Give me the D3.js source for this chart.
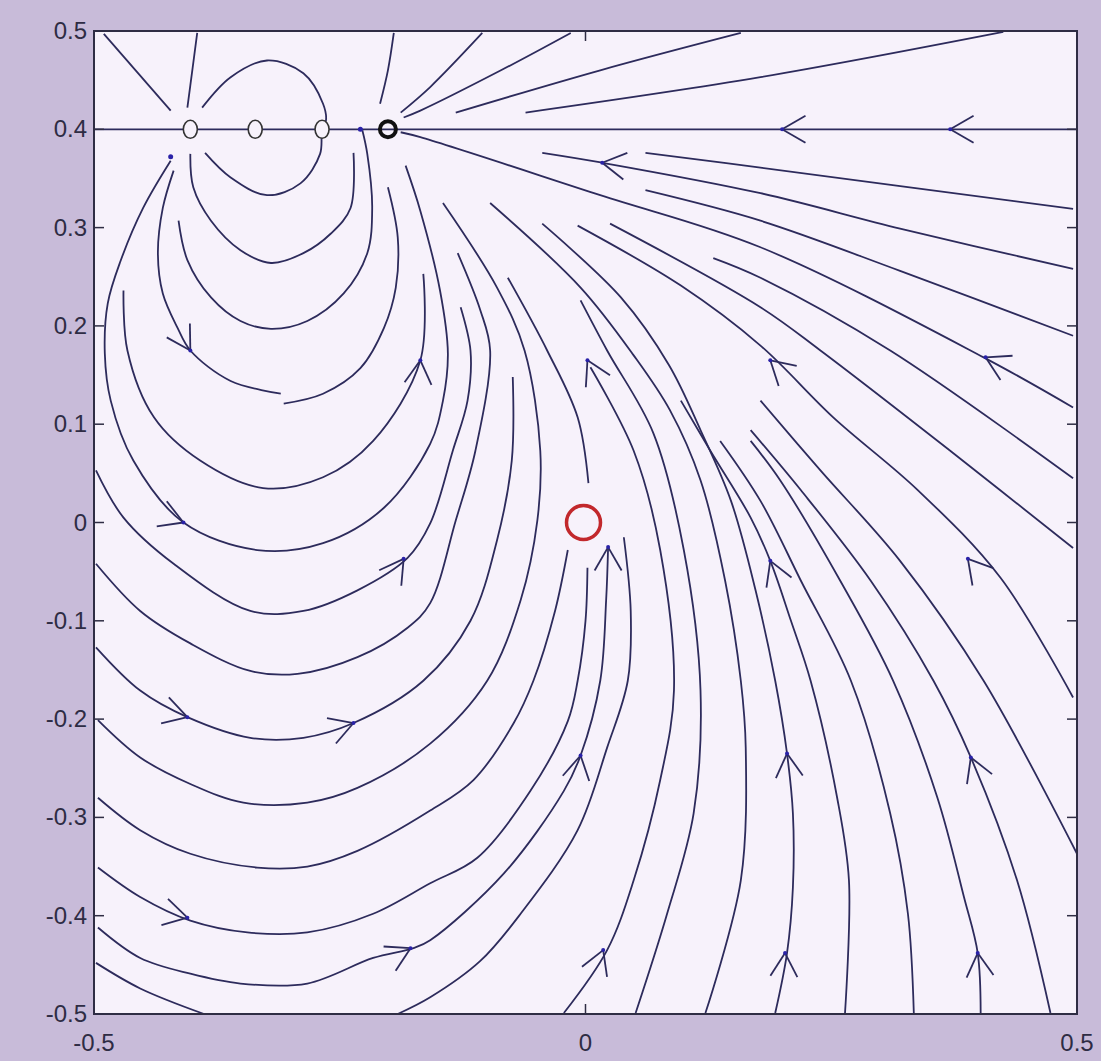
<!DOCTYPE html>
<html>
<head>
<script src="https://d3js.org/d3.v7.min.js"></script>
<style>
  body { margin: 0; background: #c8bbd9; }
  .tick-label { font: 24px "Liberation Sans", Arial, sans-serif; fill: #2e2c44; }
</style>
</head>
<body>
<svg id="chart" width="1101" height="1061"></svg>
<script>
// axis ticks
var xTicks = [-0.5, 0, 0.5];
var yTicks = [-0.5, -0.4, -0.3, -0.2, -0.1, 0, 0.1, 0.2, 0.3, 0.4, 0.5];

// markers on the y = 0.4 line and the red one at the origin
var smallMarks = [[-0.402, 0.4], [-0.336, 0.4], [-0.268, 0.4]];
var sinkMark = [-0.201, 0.4];
var redMark = [0, 0];

// lines above y = 0.4
var topLines = [
  [[-0.490, 0.497], [-0.422, 0.419]],
  [[-0.395, 0.498], [-0.400, 0.460], [-0.405, 0.422]],
  [[-0.390, 0.422], [-0.361, 0.453], [-0.324, 0.470], [-0.287, 0.457], [-0.267, 0.426], [-0.264, 0.409], [-0.268, 0.400], [-0.270, 0.375], [-0.290, 0.345], [-0.324, 0.333], [-0.361, 0.351], [-0.387, 0.376]],
  [[-0.195, 0.498], [-0.201, 0.460], [-0.209, 0.426]],
  [[-0.188, 0.417], [-0.158, 0.443], [-0.105, 0.498]],
  [[-0.185, 0.412], [-0.168, 0.419], [-0.086, 0.460], [-0.015, 0.498]],
  [[-0.132, 0.417], [0.015, 0.460], [0.158, 0.498]],
  [[-0.061, 0.417], [0.178, 0.453], [0.425, 0.499]],
  [[-0.5, 0.4], [0.5, 0.4]]
];

// lines coming in from the right edge
var rightLines = [
  [[-0.188, 0.397], [-0.168, 0.392], [0.015, 0.333], [0.178, 0.280], [0.405, 0.168], [0.496, 0.117]],
  [[-0.044, 0.376], [0.017, 0.366], [0.178, 0.335], [0.320, 0.299], [0.496, 0.258]],
  [[0.061, 0.376], [0.178, 0.361], [0.496, 0.319]],
  [[0.061, 0.338], [0.178, 0.307], [0.320, 0.256], [0.496, 0.190]],
  [[0.130, 0.269], [0.178, 0.249], [0.310, 0.175], [0.496, 0.045]],
  [[0.025, 0.304], [0.178, 0.219], [0.239, 0.175], [0.371, 0.073], [0.496, -0.026]],
  [[-0.008, 0.302], [0.097, 0.241], [0.178, 0.180], [0.252, 0.107], [0.338, 0.033], [0.422, -0.056], [0.496, -0.178]],
  [[0.500, -0.337], [0.405, -0.161], [0.320, -0.039], [0.239, 0.053], [0.178, 0.124]]
];

// loops on the left
var loopLines = [
  [[-0.402, 0.375], [-0.399, 0.341], [-0.381, 0.307], [-0.351, 0.277], [-0.320, 0.264], [-0.287, 0.274], [-0.259, 0.294], [-0.239, 0.320], [-0.236, 0.376]],
  [[-0.414, 0.307], [-0.405, 0.267], [-0.381, 0.229], [-0.351, 0.205], [-0.320, 0.197], [-0.283, 0.205], [-0.246, 0.233], [-0.222, 0.274], [-0.217, 0.320], [-0.222, 0.375], [-0.227, 0.399]],
  [[-0.419, 0.358], [-0.430, 0.320], [-0.435, 0.274], [-0.430, 0.233], [-0.415, 0.198], [-0.402, 0.175], [-0.361, 0.144], [-0.310, 0.131]],
  [[-0.307, 0.121], [-0.267, 0.131], [-0.229, 0.157], [-0.205, 0.198], [-0.193, 0.239], [-0.191, 0.290], [-0.201, 0.341]],
  [[-0.470, 0.236], [-0.466, 0.175], [-0.439, 0.107], [-0.392, 0.063], [-0.328, 0.035], [-0.267, 0.046], [-0.216, 0.083], [-0.168, 0.165], [-0.165, 0.253]],
  [[-0.422, 0.368], [-0.450, 0.320], [-0.473, 0.266], [-0.486, 0.223], [-0.489, 0.172], [-0.483, 0.124], [-0.460, 0.063], [-0.409, 0.000], [-0.334, -0.028], [-0.267, -0.021], [-0.205, 0.015], [-0.158, 0.080], [-0.145, 0.124], [-0.140, 0.172], [-0.148, 0.236], [-0.168, 0.317], [-0.183, 0.363]],
  [[-0.498, 0.053], [-0.470, 0.005], [-0.419, -0.042], [-0.341, -0.090], [-0.287, -0.090], [-0.232, -0.069], [-0.181, -0.036], [-0.158, -0.001], [-0.135, 0.073], [-0.120, 0.124], [-0.117, 0.175], [-0.127, 0.219]],
  [[-0.498, -0.042], [-0.453, -0.090], [-0.402, -0.123], [-0.341, -0.151], [-0.293, -0.154], [-0.232, -0.137], [-0.181, -0.107], [-0.158, -0.082], [-0.132, 0.002], [-0.112, 0.073], [-0.097, 0.175], [-0.107, 0.216], [-0.130, 0.274]],
  [[-0.498, -0.127], [-0.453, -0.171], [-0.405, -0.198], [-0.341, -0.219], [-0.287, -0.219], [-0.236, -0.204], [-0.165, -0.161], [-0.117, -0.100], [-0.090, -0.018], [-0.075, 0.063], [-0.074, 0.148]],
  [[-0.496, -0.201], [-0.453, -0.239], [-0.402, -0.266], [-0.348, -0.285], [-0.283, -0.285], [-0.232, -0.270], [-0.158, -0.225], [-0.100, -0.161], [-0.066, -0.079], [-0.049, 0.002], [-0.046, 0.073], [-0.062, 0.175], [-0.090, 0.239], [-0.145, 0.325]],
  [[-0.496, -0.280], [-0.453, -0.313], [-0.402, -0.337], [-0.334, -0.351], [-0.283, -0.350], [-0.232, -0.334], [-0.158, -0.293], [-0.114, -0.262], [-0.073, -0.204], [-0.053, -0.161], [-0.031, -0.090], [-0.018, -0.028]],
  [[-0.496, -0.351], [-0.453, -0.381], [-0.402, -0.405], [-0.344, -0.417], [-0.283, -0.417], [-0.216, -0.398], [-0.158, -0.367], [-0.110, -0.341], [-0.056, -0.273], [-0.018, -0.202], [-0.008, -0.161], [0.000, -0.100], [0.002, -0.046]],
  [[-0.496, -0.412], [-0.453, -0.443], [-0.402, -0.459], [-0.351, -0.469], [-0.283, -0.469], [-0.216, -0.443], [-0.175, -0.433], [-0.158, -0.425], [-0.083, -0.357], [-0.022, -0.273], [-0.005, -0.237], [0.015, -0.161], [0.021, -0.079], [0.023, -0.025]],
  [[-0.498, -0.448], [-0.453, -0.474], [-0.388, -0.500]],
  [[-0.191, -0.500], [-0.158, -0.483], [-0.107, -0.446], [-0.066, -0.398], [-0.008, -0.313], [0.022, -0.229], [0.043, -0.161], [0.046, -0.090], [0.039, -0.015]]
];

// lines rising from the bottom towards the sink
var fanLines = [
  [[-0.079, 0.249], [-0.039, 0.175], [-0.008, 0.107], [0.003, 0.040]],
  [[-0.022, -0.499], [0.022, -0.435], [0.049, -0.364], [0.076, -0.262], [0.090, -0.171], [0.076, -0.028], [0.049, 0.073], [0.005, 0.158]],
  [[0.051, -0.499], [0.083, -0.398], [0.110, -0.296], [0.117, -0.171], [0.100, -0.028], [0.069, 0.091], [0.022, 0.175], [-0.005, 0.226]],
  [[0.122, -0.499], [0.158, -0.364], [0.163, -0.229], [0.158, -0.161], [0.142, -0.059], [0.117, 0.043], [0.086, 0.114], [0.049, 0.170], [-0.005, 0.239], [-0.097, 0.325]],
  [[0.193, -0.499], [0.205, -0.438], [0.211, -0.371], [0.211, -0.296], [0.205, -0.235], [0.193, -0.161], [0.173, -0.069], [0.148, 0.022], [0.117, 0.094], [0.085, 0.160], [0.036, 0.229], [-0.044, 0.304]],
  [[0.264, -0.499], [0.268, -0.364], [0.256, -0.280], [0.229, -0.161], [0.209, -0.100], [0.188, -0.039], [0.168, 0.005], [0.127, 0.073], [0.097, 0.124]],
  [[0.334, -0.499], [0.328, -0.398], [0.310, -0.296], [0.270, -0.161], [0.219, -0.059], [0.178, 0.022], [0.137, 0.083]],
  [[0.402, -0.499], [0.399, -0.438], [0.385, -0.381], [0.358, -0.280], [0.313, -0.161], [0.259, -0.059], [0.198, 0.043], [0.168, 0.083]],
  [[0.473, -0.499], [0.439, -0.364], [0.392, -0.239], [0.354, -0.161], [0.290, -0.059], [0.219, 0.033], [0.168, 0.094]]
];

// arrow heads: x, y, direction dx, dy
var arrows = [
  [0.200, 0.400, -1, 0], [0.371, 0.400, -1, 0], [0.017, 0.366, -1, 0.15],
  [0.407, 0.168, -1, 0.5], [0.188, 0.165, -1, 0.9], [0.389, -0.037, -1, 1.2],
  [0.188, -0.039, -0.4, 1], [0.002, 0.165, -0.5, 1], [0.023, -0.025, 0, 1],
  [-0.005, -0.237, 0.2, 1], [0.018, -0.435, 0.4, 1], [0.205, -0.235, -0.1, 1],
  [0.203, -0.438, 0.05, 1], [0.392, -0.239, -0.4, 1], [0.399, -0.438, -0.1, 1],
  [-0.405, -0.198, 1, -0.3], [-0.236, -0.204, 1, 0.35], [-0.405, -0.402, 1, -0.25],
  [-0.178, -0.433, 1, 0.5], [-0.409, 0.0, 1, -0.4], [-0.185, -0.037, 0.7, 1],
  [-0.168, 0.165, 0.1, 1], [-0.402, 0.175, 0.6, -1]
];
// small blue tips without wings, next to the sources
var tips = [[-0.422, 0.372], [-0.229, 0.400]];

function draw() {
  var svg = d3.select("#chart");
  var x0 = 94, x1 = 1077, y0 = 31, y1 = 1014;
  var xs = d3.scaleLinear().domain([-0.5, 0.5]).range([x0, x1]);
  var ys = d3.scaleLinear().domain([-0.5, 0.5]).range([y1, y0]);

  svg.append("rect").attr("x", x0).attr("y", y0)
    .attr("width", x1 - x0).attr("height", y1 - y0)
    .attr("fill", "#f7f2fb");

  var plot = svg.append("g");
  var line = d3.line().x(d => xs(d[0])).y(d => ys(d[1])).curve(d3.curveCatmullRom.alpha(0.5));
  var allLines = topLines.concat(rightLines, loopLines, fanLines);

  plot.selectAll("path.stream").data(allLines).enter()
    .append("path").attr("class", "stream")
    .attr("d", line)
    .attr("fill", "none").attr("stroke", "#2d2b5c").attr("stroke-width", 1.8);

  // arrow heads
  var wing = 27, spread = Math.PI / 6;
  arrows.forEach(function(a) {
    var px = xs(a[0]), py = ys(a[1]);
    var ang = Math.atan2(-a[3], a[2]);
    [1, -1].forEach(function(s) {
      var t = ang + Math.PI + s * spread;
      plot.append("line")
        .attr("x1", px).attr("y1", py)
        .attr("x2", px + wing * Math.cos(t)).attr("y2", py + wing * Math.sin(t))
        .attr("stroke", "#2d2b5c").attr("stroke-width", 1.8);
    });
    plot.append("circle").attr("cx", px).attr("cy", py).attr("r", 2).attr("fill", "#2a22a8");
  });
  plot.selectAll("circle.tip").data(tips).enter()
    .append("circle").attr("class", "tip")
    .attr("cx", d => xs(d[0])).attr("cy", d => ys(d[1])).attr("r", 2.5)
    .attr("fill", "#2a22a8");

  // markers
  plot.selectAll("ellipse.mark").data(smallMarks).enter()
    .append("ellipse").attr("class", "mark")
    .attr("cx", d => xs(d[0])).attr("cy", d => ys(d[1]))
    .attr("rx", 7).attr("ry", 9)
    .attr("fill", "#f7f2fb").attr("stroke", "#333").attr("stroke-width", 1.6);
  plot.append("circle").attr("cx", xs(sinkMark[0])).attr("cy", ys(sinkMark[1])).attr("r", 8)
    .attr("fill", "none").attr("stroke", "#111").attr("stroke-width", 4);
  plot.append("circle").attr("cx", xs(redMark[0]) - 2).attr("cy", ys(redMark[1])).attr("r", 17)
    .attr("fill", "none").attr("stroke", "#c2282c").attr("stroke-width", 3.5);

  // frame and ticks
  svg.append("rect").attr("x", x0).attr("y", y0)
    .attr("width", x1 - x0).attr("height", y1 - y0)
    .attr("fill", "none").attr("stroke", "#2f2d44").attr("stroke-width", 2);

  var tl = 10;
  yTicks.forEach(function(t) {
    svg.append("line").attr("x1", x0).attr("x2", x0 + tl).attr("y1", ys(t)).attr("y2", ys(t)).attr("stroke", "#2f2d44").attr("stroke-width", 1.5);
    svg.append("line").attr("x1", x1).attr("x2", x1 - tl).attr("y1", ys(t)).attr("y2", ys(t)).attr("stroke", "#2f2d44").attr("stroke-width", 1.5);
    svg.append("text").attr("class", "tick-label")
      .attr("x", x0 - 7).attr("y", ys(t) + 8).attr("text-anchor", "end")
      .text(String(t));
  });
  xTicks.forEach(function(t) {
    svg.append("line").attr("x1", xs(t)).attr("x2", xs(t)).attr("y1", y1).attr("y2", y1 - tl).attr("stroke", "#2f2d44").attr("stroke-width", 1.5);
    svg.append("line").attr("x1", xs(t)).attr("x2", xs(t)).attr("y1", y0).attr("y2", y0 + tl).attr("stroke", "#2f2d44").attr("stroke-width", 1.5);
    svg.append("text").attr("class", "tick-label")
      .attr("x", xs(t)).attr("y", y1 + 37).attr("text-anchor", "middle")
      .text(String(t));
  });
}
draw();
</script>
</body>
</html>
